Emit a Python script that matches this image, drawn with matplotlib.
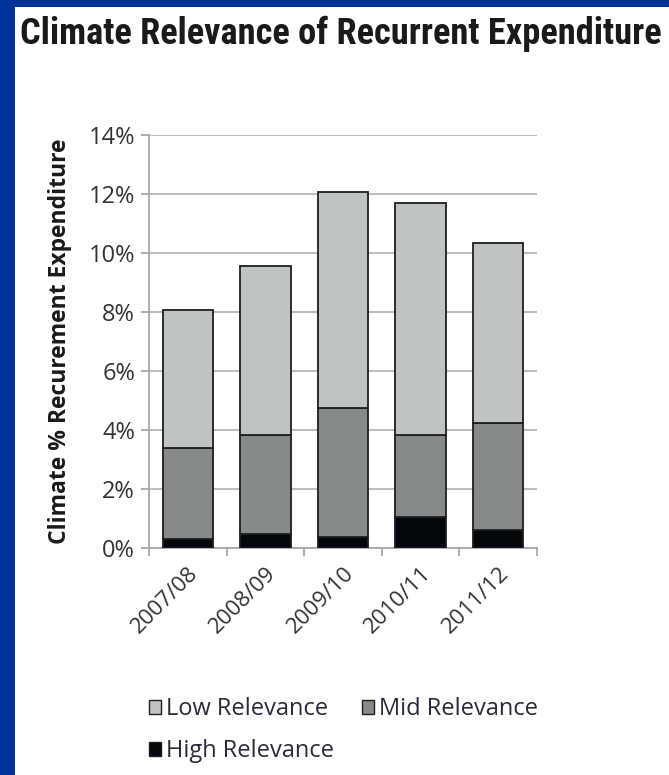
import matplotlib
matplotlib.use("Agg")
import matplotlib.pyplot as plt
from matplotlib.patches import Patch, Rectangle
from matplotlib.ticker import FuncFormatter

# data (% of recurrent expenditure)
years = ["2007/08", "2008/09", "2009/10", "2010/11", "2011/12"]
high = [0.30, 0.46, 0.38, 1.06, 0.61]
mid = [3.10, 3.36, 4.36, 2.77, 3.62]
low = [4.67, 5.75, 7.33, 7.85, 6.12]

c_low = "#c0c3c4"
c_mid = "#868a8b"
c_high = "#03060b"
edge = "#1e1e1e"
txt = "#333333"
grid = "#bdbdbd"

plt.rcParams["font.family"] = ["Open Sans", "DejaVu Sans"]

fig = plt.figure(figsize=(6.69, 7.75), dpi=100, facecolor="#003399")
# white panel inside the blue frame
fig.patches.append(Rectangle((15 / 669, 0), 1, 1 - 7 / 775, transform=fig.transFigure,
                             facecolor="white", edgecolor="none", zorder=-5))

fig.text(20 / 669, 1 - 44 / 775, "Climate Relevance of Recurrent Expenditure",
         family=["Roboto Condensed", "DejaVu Sans"], stretch="condensed", weight="bold",
         fontsize=26.2, color="#1a1a1a", ha="left", va="baseline")

ax = fig.add_axes([149 / 669, 1 - 548 / 775, 388 / 669, 413 / 775])
x = range(len(years))
w = 0.65
bottom2 = [h + m for h, m in zip(high, mid)]
ax.bar(x, high, w, color=c_high, edgecolor=edge, linewidth=1.3, zorder=3)
ax.bar(x, mid, w, bottom=high, color=c_mid, edgecolor=edge, linewidth=1.3, zorder=3)
ax.bar(x, low, w, bottom=bottom2, color=c_low, edgecolor=edge, linewidth=1.3, zorder=3)

ax.set_xlim(-0.5, len(years) - 0.5)
ax.set_ylim(0, 14)
ax.set_yticks(range(0, 15, 2))
ax.yaxis.set_major_formatter(FuncFormatter(lambda v, p: f"{v:.0f}%"))
ax.yaxis.grid(True, color=grid, linewidth=1.5)
ax.set_axisbelow(True)

for s in ["top", "right"]:
    ax.spines[s].set_visible(False)
for s in ["left", "bottom"]:
    ax.spines[s].set_color("#a8a8a8")
    ax.spines[s].set_linewidth(1.3)

ax.set_xticks(list(x))
ax.set_xticklabels(years, rotation=45, ha="right", rotation_mode="anchor",
                   fontsize=16, color=txt)
ax.set_xticks([i - 0.5 for i in range(len(years) + 1)], minor=True)
ax.tick_params(axis="x", which="major", length=0, pad=11)
ax.tick_params(axis="x", which="minor", length=6, width=1.3, color="#a8a8a8")
ax.tick_params(axis="y", length=6, width=1.3, color="#a8a8a8", labelsize=17,
               labelcolor=txt, pad=4)

ax.set_ylabel("Climate % Recurement Expenditure", fontsize=16.5, weight="bold",
              color="#1a1a1a", labelpad=12)

handles = [Patch(facecolor=c_low, edgecolor=edge, label="Low Relevance"),
           Patch(facecolor=c_high, edgecolor=edge, label="High Relevance"),
           Patch(facecolor=c_mid, edgecolor=edge, label="Mid Relevance")]
fig.legend(handles=handles, ncol=2, loc="upper left",
           bbox_to_anchor=(140 / 669, 1 - 688 / 775), frameon=False,
           fontsize=17, handlelength=0.5, handleheight=0.5, handletextpad=0.2,
           columnspacing=1.2, labelspacing=0.75, labelcolor="#2a2a3a",
           borderaxespad=0)

fig.savefig("out.png", dpi=100, facecolor=fig.get_facecolor())
